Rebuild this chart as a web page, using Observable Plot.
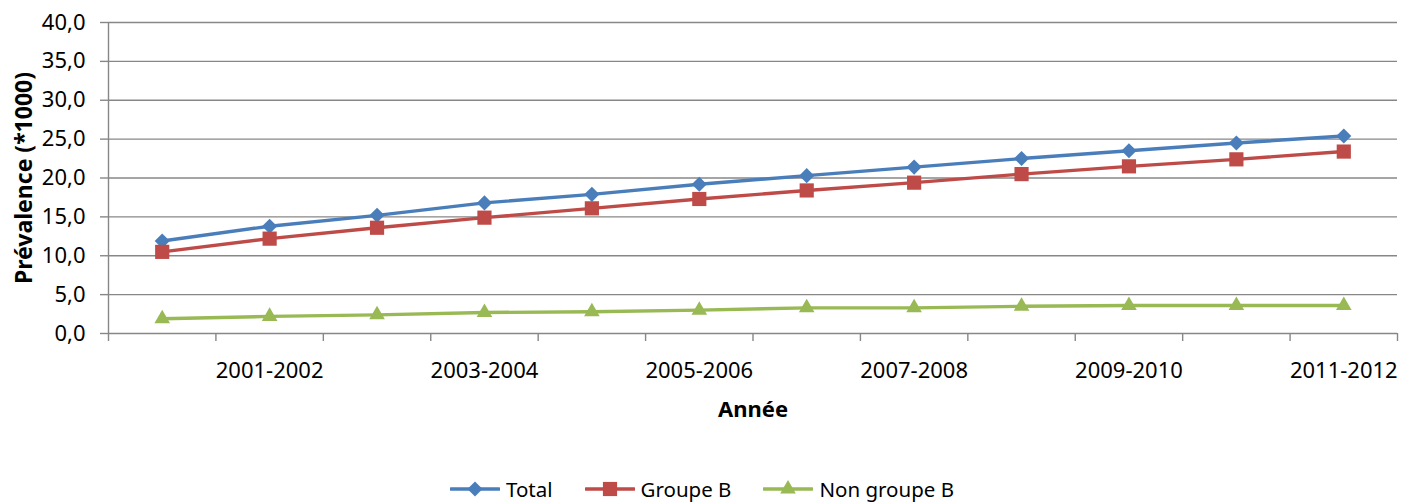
<!DOCTYPE html>
<html>
<head>
<meta charset="utf-8">
<script src="https://cdn.jsdelivr.net/npm/d3@7"></script>
<script src="https://cdn.jsdelivr.net/npm/@observablehq/plot@0.6"></script>
<style>
  html, body { margin: 0; padding: 0; background: #fff; }
  #wrap { position: relative; width: 1404px; height: 502px; font-family: "Noto Sans", sans-serif; }
  #legend { position: absolute; left: 0; top: 475px; width: 1404px; display: flex; justify-content: center; align-items: center; gap: 32px; font-size: 20.5px; color: #000; }
  .item { display: flex; align-items: center; gap: 6px; }
  .item svg { display: block; }
</style>
</head>
<body>
<div id="wrap">
  <div id="chart"></div>
  <div id="legend"></div>
</div>
<script>
const categories = ["2000-2001","2001-2002","2002-2003","2003-2004","2004-2005","2005-2006","2006-2007","2007-2008","2008-2009","2009-2010","2010-2011","2011-2012"];
const seriesNames = ["Total", "Groupe B", "Non groupe B"];
const total = [11.9, 13.8, 15.2, 16.8, 17.9, 19.2, 20.3, 21.4, 22.5, 23.5, 24.5, 25.4];
const groupeB = [10.5, 12.2, 13.6, 14.9, 16.1, 17.3, 18.4, 19.4, 20.5, 21.5, 22.4, 23.4];
const nonGroupeB = [1.9, 2.2, 2.4, 2.7, 2.8, 3.0, 3.3, 3.3, 3.5, 3.6, 3.6, 3.6];
const yTicks = [0, 5, 10, 15, 20, 25, 30, 35, 40];

const colors = ["#4A7EBB", "#BE4B48", "#98B954"];
const symbols = ["diamond2", "square", "triangle"];
const radii = [6.8, 8, 5.8];
const values = [total, groupeB, nonGroupeB];

const seriesData = seriesNames.map((s, k) => values[k].map((v, i) => ({series: s, i, v})));

const n = categories.length;
const boundaries = d3.range(n + 1).map(i => i - 0.5);
const labelIdx = d3.range(1, n, 2);
const fmt = d => d.toFixed(1).replace(".", ",");
const grid = "#878787";

const lineMarks = seriesData.map((d, k) =>
  Plot.line(d, {x: "i", y: "v", stroke: colors[k], strokeWidth: 3.4, strokeLinejoin: "round"}));
const dotMarks = seriesData.map((d, k) =>
  Plot.dot(d, {x: "i", y: "v", fill: colors[k], symbol: symbols[k], r: radii[k], stroke: "none"}));

const chart = Plot.plot({
  width: 1404,
  height: 460,
  marginLeft: 108,
  marginRight: 7,
  marginTop: 22,
  marginBottom: 127,
  style: {fontFamily: "'Noto Sans', sans-serif", fontSize: "22px", color: "#000", background: "#fff"},
  x: {type: "linear", domain: [-0.5, n - 0.5], axis: null},
  y: {domain: [0, 40], axis: null},
  marks: [
    Plot.ruleY(yTicks, {stroke: grid, strokeWidth: 1.4, strokeOpacity: 1}),
    Plot.ruleX([boundaries[0]], {stroke: grid, strokeWidth: 1.4}),
    Plot.axisY({ticks: yTicks, tickSize: 8, tickPadding: 15, tickFormat: fmt, stroke: grid, strokeWidth: 1.4, strokeOpacity: 1, fill: "#000", label: null}),
    Plot.axisX({ticks: boundaries, tickSize: 8, tickFormat: () => "", stroke: grid, strokeWidth: 1.4, strokeOpacity: 1, label: null}),
    Plot.axisX({ticks: labelIdx, tickSize: 0, tickPadding: 29, tickFormat: i => categories[i], fill: "#000", label: null}),
    ...lineMarks,
    ...dotMarks,
    Plot.text(["Année"], {text: d => d, frameAnchor: "bottom", dy: 83, fontWeight: "bold", fontSize: 22, fill: "#000"}),
    Plot.text(["Prévalence (*1000)"], {text: d => d, frameAnchor: "left", textAnchor: "middle", dx: -84, rotate: -90, fontWeight: "bold", fontSize: 23, fill: "#000"})
  ]
});
document.getElementById("chart").appendChild(chart);

// Legend
const legend = d3.select("#legend");
const symMap = {diamond2: d3.symbolDiamond2, square: d3.symbolSquare, triangle: d3.symbolTriangle};
seriesNames.forEach((s, k) => {
  const item = legend.append("div").attr("class", "item");
  const svg = item.append("svg").attr("width", 50).attr("height", 22);
  svg.append("line").attr("x1", 1).attr("x2", 49).attr("y1", 11).attr("y2", 11)
    .attr("stroke", colors[k]).attr("stroke-width", 3.4).attr("stroke-linecap", "round");
  svg.append("path").attr("transform", "translate(25,11)")
    .attr("d", d3.symbol(symMap[symbols[k]], Math.PI * radii[k] * radii[k])())
    .attr("fill", colors[k]);
  item.append("span").text(s);
});
</script>
</body>
</html>
